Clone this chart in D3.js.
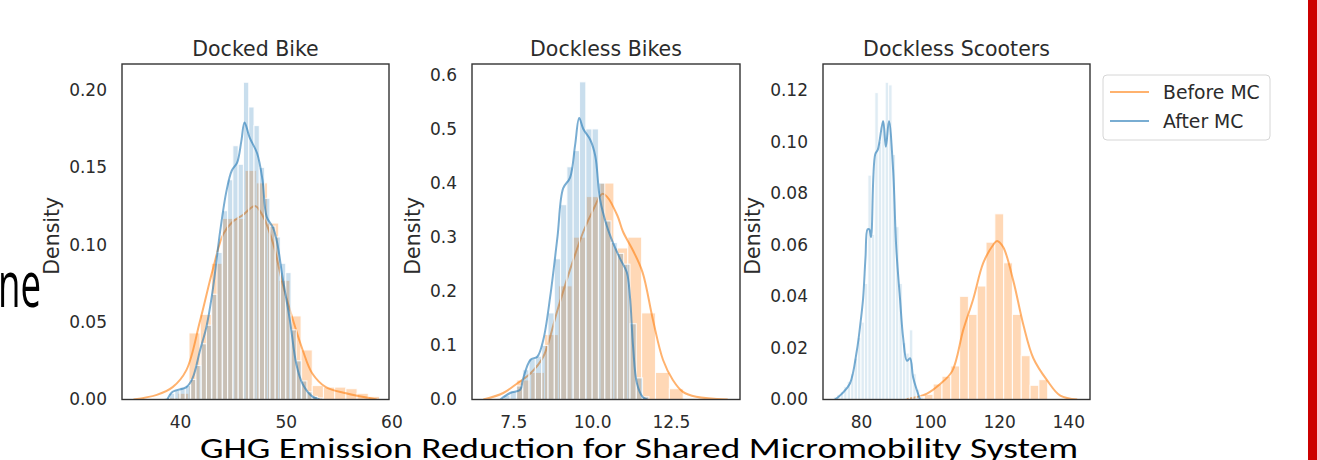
<!DOCTYPE html>
<html>
<head>
<meta charset="utf-8">
<script src="https://cdn.jsdelivr.net/npm/d3@7"></script>
<style>
  body { margin: 0; background: #fff; }
  svg { display: block; }
</style>
</head>
<body>
<svg id="chart" width="1317" height="460"></svg>
<script>
// ---- data ----
const panelTitles = ["Docked Bike", "Dockless Bikes", "Dockless Scooters"];
const seriesNames = ["Before MC", "After MC"];
const bottomTitle = "GHG Emission Reduction for Shared Micromobility System";

// Docked Bike
const dockedXTicks = [40, 50, 60];
const dockedYTicks = [0, 0.05, 0.10, 0.15, 0.20];
const dockedBeforeBinStart = 38.73, dockedBeforeBinWidth = 1.06;
const dockedBeforeHist = [0.001, 0.004, 0.043, 0.055, 0.088, 0.117, 0.117, 0.148, 0.140, 0.114,
                          0.077, 0.054, 0.032, 0.009, 0.008, 0.008, 0.007, 0.004, 0.002];
const dockedAfterBinStart = 38.5, dockedAfterBinWidth = 0.5;
const dockedAfterHist = [0.001, 0.004, 0.006, 0.008, 0.009, 0.013, 0.022, 0.036, 0.048, 0.068,
                         0.095, 0.122, 0.142, 0.164, 0.152, 0.205, 0.189, 0.177, 0.150, 0.130,
                         0.112, 0.105, 0.088, 0.082, 0.045, 0.025, 0.012, 0.005, 0.002, 0.001];
const dockedBeforeKdeX = [35.6, 37.8, 39.3, 40.6, 41.9, 43.1, 44.1, 45.0, 45.9, 47.1, 47.8, 48.8, 49.7, 50.7, 51.6, 52.5, 53.8, 55.7, 58.6];
const dockedBeforeKdeY = [0, 0.003, 0.008, 0.019, 0.051, 0.084, 0.107, 0.115, 0.119, 0.125, 0.119, 0.101, 0.075, 0.051, 0.032, 0.017, 0.008, 0.004, 0];
const dockedAfterKdeX = [38.8, 39.3, 40.6, 41.2, 41.9, 42.5, 43.1, 43.8, 44.4, 44.9, 45.4, 45.8, 46.1, 46.6, 47.3, 47.8, 48.2, 48.8, 49.2, 49.7, 50.4, 51.0, 51.6, 52.5, 53.2];
const dockedAfterKdeY = [0, 0.005, 0.008, 0.014, 0.032, 0.047, 0.071, 0.109, 0.135, 0.148, 0.153, 0.167, 0.179, 0.169, 0.159, 0.142, 0.118, 0.111, 0.101, 0.079, 0.051, 0.023, 0.010, 0.002, 0];

// Dockless Bikes
const bikesXTicks = [7.5, 10.0, 12.5];
const bikesYTicks = [0, 0.1, 0.2, 0.3, 0.4, 0.5, 0.6];
const bikesBeforeBinStart = 7.61, bikesBeforeBinWidth = 0.44;
const bikesBeforeHist = [0.036, 0.05, 0.12, 0.21, 0.30, 0.375, 0.40, 0.28, 0.30, 0.16, 0.05, 0.02];
const bikesAfterBinStart = 7.0, bikesAfterBinWidth = 0.2;
const bikesAfterHist = [0.002, 0.008, 0.015, 0.025, 0.055, 0.075, 0.08, 0.10, 0.16, 0.26, 0.36, 0.43,
                        0.46, 0.587, 0.50, 0.50, 0.40, 0.33, 0.29, 0.27, 0.25, 0.14, 0.04, 0.005];
const bikesBeforeKdeX = [6.55, 7.18, 7.63, 8.04, 8.45, 8.9, 9.3, 9.72, 10.03, 10.32, 10.47, 10.8, 10.98, 11.3, 11.6, 11.93, 12.25, 12.56, 12.88, 13.3, 14.3];
const bikesBeforeKdeY = [0, 0.012, 0.03, 0.048, 0.079, 0.165, 0.24, 0.31, 0.35, 0.38, 0.375, 0.34, 0.31, 0.275, 0.235, 0.147, 0.073, 0.036, 0.014, 0.005, 0];
const bikesAfterKdeX = [7.09, 7.4, 7.72, 7.8, 8.04, 8.26, 8.45, 8.67, 8.9, 9.08, 9.3, 9.46, 9.59, 9.72, 9.94, 10.1, 10.25, 10.47, 10.66, 10.89, 11.1, 11.2, 11.3, 11.42, 11.6, 11.75];
const bikesAfterKdeY = [0, 0.012, 0.018, 0.036, 0.073, 0.079, 0.11, 0.19, 0.30, 0.39, 0.41, 0.47, 0.52, 0.50, 0.48, 0.45, 0.37, 0.32, 0.29, 0.26, 0.235, 0.19, 0.097, 0.03, 0.005, 0];

// Dockless Scooters
const scootXTicks = [80, 100, 120, 140];
const scootYTicks = [0, 0.02, 0.04, 0.06, 0.08, 0.10, 0.12];
const scootBeforeBinStart = 98.35, scootBeforeBinWidth = 2.55;
const scootBeforeHist = [0.002, 0.006, 0.009, 0.013, 0.040, 0.033, 0.044, 0.061, 0.072, 0.053, 0.033, 0.017, 0.0055, 0.0077];
const scootAfterBinStart = 72, scootAfterBinWidth = 1;
const scootAfterHist = [0.001, 0.002, 0.003, 0.005, 0.007, 0.010, 0.016, 0.024, 0.030, 0.045, 0.087, 0.064, 0.119,
                        0.100, 0.108, 0.123, 0.122, 0.095, 0.067, 0.045, 0.022, 0.018, 0.027, 0.010, 0.004, 0.001];
const scootBeforeKdeX = [92.8, 99.1, 102.9, 106.4, 109.6, 112.5, 115.4, 118.3, 119.4, 121.2, 124.1, 127.0, 129.9, 133.9, 137.7, 142.6];
const scootBeforeKdeY = [0, 0.0023, 0.006, 0.011, 0.027, 0.039, 0.053, 0.060, 0.0615, 0.059, 0.046, 0.029, 0.016, 0.0074, 0.0015, 0];
const scootAfterKdeX = [72.5, 74.5, 76.8, 78.8, 79.7, 80.6, 81.3, 81.9, 82.4, 82.9, 84.1, 84.9, 86.4, 87.2, 88.1, 89.3, 90.2, 91.3, 92.2, 93.3, 94.2, 95.1, 96.2, 97.1];
const scootAfterKdeY = [0, 0.0023, 0.0062, 0.019, 0.028, 0.039, 0.055, 0.066, 0.066, 0.063, 0.095, 0.097, 0.108, 0.098, 0.108, 0.089, 0.059, 0.039, 0.024, 0.015, 0.016, 0.0085, 0.0035, 0];

// ---- layout ----
const W = 1317, H = 460;
const plotTop = 64, plotBottom = 399.5;
const orange = "#ff7f0e", blue = "#1f77b4";
const font = "'DejaVu Sans', sans-serif";

const panels = [
  { title: panelTitles[0], left: 122, right: 389, xDomain: [34.51, 59.77], yDomain: [0, 0.2168],
    xTicks: dockedXTicks, yTicks: dockedYTicks, xFmt: "d", yFmt: ".2f", blueOp: 0.24,
    before: { start: dockedBeforeBinStart, width: dockedBeforeBinWidth, h: dockedBeforeHist, kx: dockedBeforeKdeX, ky: dockedBeforeKdeY },
    after:  { start: dockedAfterBinStart, width: dockedAfterBinWidth, h: dockedAfterHist, kx: dockedAfterKdeX, ky: dockedAfterKdeY } },
  { title: panelTitles[1], left: 472, right: 740, xDomain: [6.19, 14.69], yDomain: [0, 0.620],
    xTicks: bikesXTicks, yTicks: bikesYTicks, xFmt: ".1f", yFmt: ".1f", blueOp: 0.24,
    before: { start: bikesBeforeBinStart, width: bikesBeforeBinWidth, h: bikesBeforeHist, kx: bikesBeforeKdeX, ky: bikesBeforeKdeY },
    after:  { start: bikesAfterBinStart, width: bikesAfterBinWidth, h: bikesAfterHist, kx: bikesAfterKdeX, ky: bikesAfterKdeY } },
  { title: panelTitles[2], left: 823, right: 1090, xDomain: [69.0, 146.3], yDomain: [0, 0.1301],
    xTicks: scootXTicks, yTicks: scootYTicks, xFmt: "d", yFmt: ".2f", blueOp: 0.14,
    before: { start: scootBeforeBinStart, width: scootBeforeBinWidth, h: scootBeforeHist, kx: scootBeforeKdeX, ky: scootBeforeKdeY },
    after:  { start: scootAfterBinStart, width: scootAfterBinWidth, h: scootAfterHist, kx: scootAfterKdeX, ky: scootAfterKdeY } }
];

const svg = d3.select("#chart");
svg.append("rect").attr("width", W).attr("height", H).attr("fill", "#fff");

panels.forEach((p, i) => {
  const x = d3.scaleLinear().domain(p.xDomain).range([p.left, p.right]);
  const y = d3.scaleLinear().domain(p.yDomain).range([plotBottom, plotTop]);
  const g = svg.append("g");

  g.append("clipPath").attr("id", "clip" + i)
    .append("rect").attr("x", p.left).attr("y", plotTop)
    .attr("width", p.right - p.left).attr("height", plotBottom - plotTop);
  const plot = g.append("g").attr("clip-path", `url(#clip${i})`);

  const drawHist = (s, color, op) => {
    plot.append("g").selectAll("rect")
      .data(s.h)
      .join("rect")
      .attr("x", (d, k) => x(s.start + k * s.width))
      .attr("width", (d, k) => x(s.start + (k + 1) * s.width) - x(s.start + k * s.width))
      .attr("y", d => y(d))
      .attr("height", d => y(0) - y(d))
      .attr("fill", color).attr("fill-opacity", op)
      .attr("stroke", "#fff").attr("stroke-width", 1.1).attr("stroke-opacity", 0.85);
  };
  const drawKde = (s, color) => {
    const line = d3.line().x(d => x(d[0])).y(d => y(d[1])).curve(d3.curveCatmullRom);
    plot.append("path")
      .datum(d3.zip(s.kx, s.ky))
      .attr("d", line)
      .attr("fill", "none")
      .attr("stroke", color).attr("stroke-opacity", 0.6)
      .attr("stroke-width", 2);
  };

  drawHist(p.before, orange, 0.3);
  drawKde(p.before, orange);
  drawHist(p.after, blue, p.blueOp);
  drawKde(p.after, blue);

  // frame
  g.append("rect").attr("x", p.left).attr("y", plotTop)
    .attr("width", p.right - p.left).attr("height", plotBottom - plotTop)
    .attr("fill", "none").attr("stroke", "#333").attr("stroke-width", 1.4);

  // axes
  const yAxis = g.append("g").attr("transform", `translate(${p.left},0)`)
    .call(d3.axisLeft(y).tickValues(p.yTicks).tickFormat(d3.format(p.yFmt)).tickSize(0).tickPadding(15));
  const xAxis = g.append("g").attr("transform", `translate(0,${plotBottom})`)
    .call(d3.axisBottom(x).tickValues(p.xTicks).tickFormat(d3.format(p.xFmt)).tickSize(0).tickPadding(16));
  [yAxis, xAxis].forEach(a => {
    a.select(".domain").remove();
    a.selectAll("text").attr("font-family", font).attr("font-size", 17).attr("fill", "#2b2b2b");
  });

  // y label
  const bb = yAxis.node().getBBox();
  const cx = p.left + bb.x - 17;
  g.append("text")
    .attr("transform", `translate(${cx},${(plotTop + plotBottom) / 2 + 4}) rotate(-90)`)
    .attr("text-anchor", "middle").attr("dy", "0.35em")
    .attr("font-family", font).attr("font-size", 20.5).attr("fill", "#2b2b2b")
    .text("Density");

  // title
  g.append("text")
    .attr("x", (p.left + p.right) / 2).attr("y", 56)
    .attr("text-anchor", "middle")
    .attr("font-family", font).attr("font-size", 20.5).attr("fill", "#2b2b2b")
    .text(p.title);
});

// legend
const lg = svg.append("g");
lg.append("rect").attr("x", 1103).attr("y", 75).attr("width", 167).attr("height", 65)
  .attr("rx", 4).attr("fill", "#fff").attr("stroke", "#d6d6d6").attr("stroke-width", 1);
[orange, blue].forEach((c, k) => {
  const yy = 92 + k * 29;
  lg.append("line").attr("x1", 1110).attr("x2", 1149).attr("y1", yy).attr("y2", yy)
    .attr("stroke", c).attr("stroke-opacity", 0.6).attr("stroke-width", 2);
  lg.append("text").attr("x", 1163).attr("y", yy).attr("dy", "0.35em")
    .attr("font-family", font).attr("font-size", 18.8).attr("fill", "#2b2b2b")
    .text(seriesNames[k]);
});

// slide fragments around the chart
svg.append("text").attr("x", -2).attr("y", 307)
  .attr("textLength", 43).attr("lengthAdjust", "spacingAndGlyphs")
  .attr("font-family", "'Open Sans', sans-serif").attr("font-size", 64).attr("fill", "#000")
  .text("ne");
svg.append("text").attr("x", 200).attr("y", 458)
  .attr("textLength", 878).attr("lengthAdjust", "spacingAndGlyphs")
  .attr("font-family", "Carlito, Calibri, 'Open Sans', sans-serif").attr("font-size", 29.5).attr("fill", "#000")
  .text(bottomTitle);
svg.append("rect").attr("x", 1308).attr("y", 0).attr("width", 9).attr("height", H).attr("fill", "#cc0000");
</script>
</body>
</html>
